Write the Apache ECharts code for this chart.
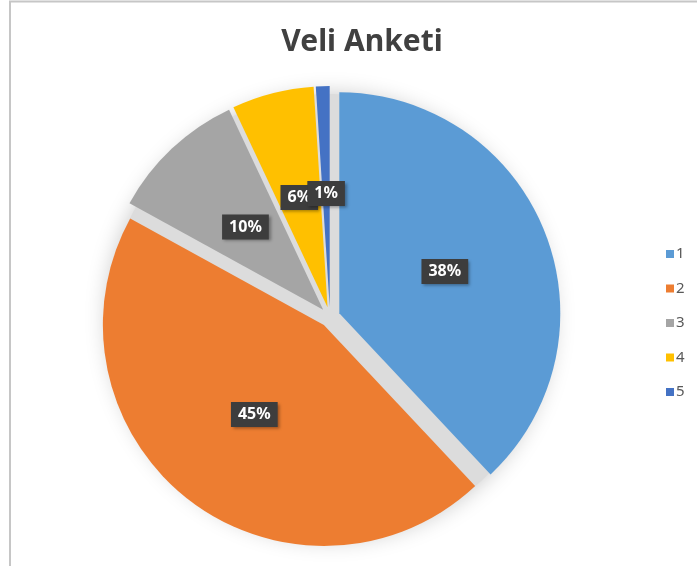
<!DOCTYPE html>
<html>
<head>
<meta charset="utf-8">
<script src="https://cdn.jsdelivr.net/npm/echarts@6/dist/echarts.min.js"></script>
<style>
html,body{margin:0;padding:0;background:#fff;}
#main{width:697px;height:566px;}
</style>
</head>
<body>
<div id="main"></div>
<script>
var titleText = 'Veli Anketi';
var categories = ['1', '2', '3', '4', '5'];
var values = [38, 45, 10, 6, 1];
var colors = ['#5B9BD5', '#ED7D31', '#A5A5A5', '#FFC000', '#4472C4'];

var chart = echarts.init(document.getElementById('main'));
var CENTER = [330, 317];
var R = 221;

var data = categories.map(function (c, i) {
  return {
    name: c,
    value: values[i],
    selected: true,
    itemStyle: { color: colors[i] }
  };
});

chart.setOption({
  animation: false,
  backgroundColor: '#ffffff',
  title: {
    text: titleText,
    left: 357,
    top: 22,
    textAlign: 'center',
    textStyle: {
      fontFamily: 'Noto Sans',
      fontWeight: 'bold',
      fontSize: 30,
      color: '#404040'
    }
  },
  legend: {
    orient: 'vertical',
    left: 661,
    top: 241,
    icon: 'rect',
    itemWidth: 8,
    itemHeight: 8,
    itemGap: 18.5,
    selectedMode: false,
    data: categories,
    textStyle: {
      fontFamily: 'Noto Sans',
      fontSize: 15,
      lineHeight: 16,
      color: '#595959',
      padding: [0, 0, 0, -3]
    }
  },
  graphic: [{
    type: 'rect',
    shape: { x: 10, y: 1.5, width: 720, height: 600 },
    style: { fill: 'none', stroke: '#c6c6c6', lineWidth: 2 },
    silent: true,
    z: -10
  }],
  series: [
    {
      type: 'pie',
      silent: true,
      center: CENTER,
      radius: R + 2,
      z: 1,
      label: { show: false },
      labelLine: { show: false },
      itemStyle: {
        color: '#dcdcdc',
        shadowBlur: 22,
        shadowColor: 'rgba(0,0,0,0.22)'
      },
      data: [{ value: 1, name: '' }]
    },
    {
      type: 'pie',
      silent: true,
      center: CENTER,
      radius: R,
      startAngle: 90,
      clockwise: true,
      z: 2,
      selectedMode: 'multiple',
      selectedOffset: 10,
      percentPrecision: 0,
      avoidLabelOverlap: false,
      minShowLabelAngle: 0,
      labelLayout: { hideOverlap: false },
      label: {
        show: true,
        position: 'inside',
        formatter: '{d}%',
        fontFamily: 'Noto Sans',
        fontWeight: 'bold',
        fontSize: 16,
        color: '#ffffff',
        backgroundColor: '#3d3d3d',
        padding: [5, 7, 4, 7],
        shadowBlur: 3,
        shadowOffsetX: 2,
        shadowOffsetY: 2,
        shadowColor: 'rgba(0,0,0,0.35)'
      },
      labelLine: { show: false },
      itemStyle: { borderWidth: 0 },
      select: {
        itemStyle: { borderWidth: 0 }
      },
      data: data
    }
  ]
});
</script>
</body>
</html>
